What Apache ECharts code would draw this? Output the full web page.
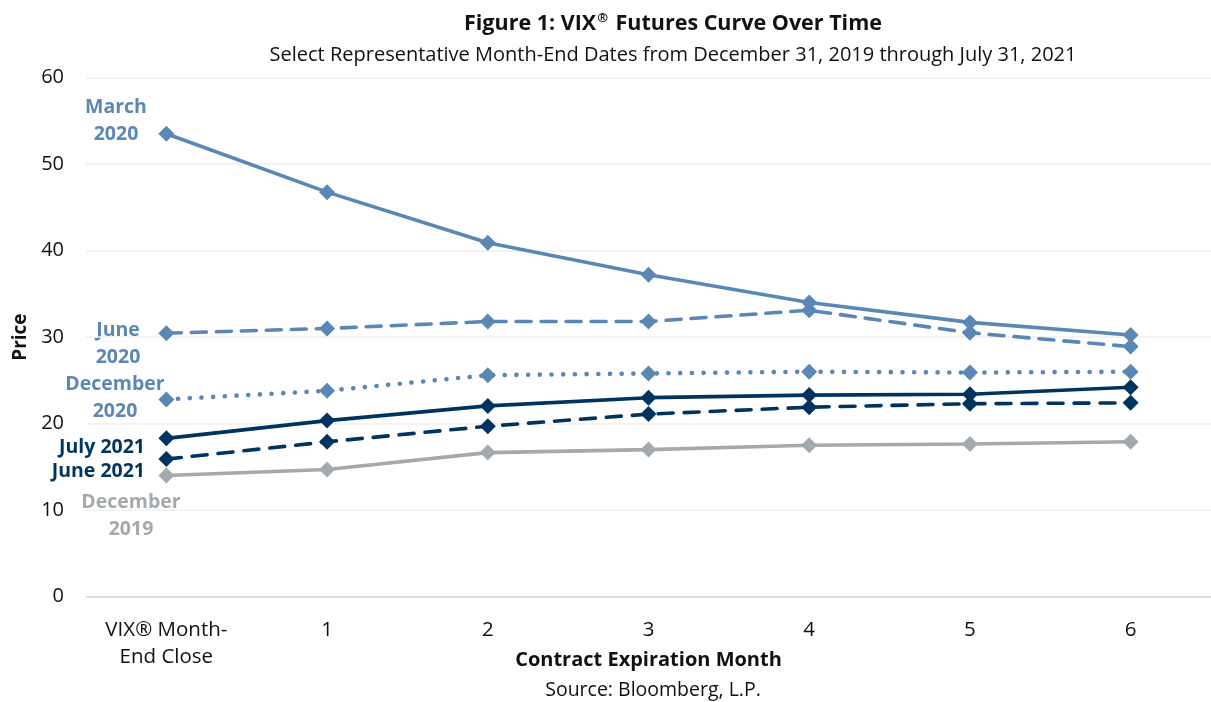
<!DOCTYPE html>
<html><head><meta charset="utf-8">
<script src="https://cdn.jsdelivr.net/npm/echarts@6/dist/echarts.min.js"></script>
<style>html,body{margin:0;padding:0;background:#fff}#c{width:1211px;height:702px}</style>
</head><body><div id="c"></div>
<script>
const categories = ['VIX® Month-\nEnd Close', '1', '2', '3', '4', '5', '6'];
const yTicks = [0, 10, 20, 30, 40, 50, 60];
const march2020 = [53.5, 46.75, 40.9, 37.2, 34.0, 31.7, 30.25];
const june2020 = [30.45, 31.0, 31.8, 31.8, 33.1, 30.5, 28.9];
const dec2020 = [22.8, 23.8, 25.6, 25.8, 26.0, 25.9, 26.0];
const july2021 = [18.3, 20.35, 22.05, 23.0, 23.3, 23.4, 24.2];
const june2021 = [15.9, 17.9, 19.7, 21.1, 21.9, 22.3, 22.4];
const dec2019 = [14.0, 14.7, 16.65, 17.0, 17.5, 17.65, 17.9];

const LIGHT = '#5b87b5', DARK = '#00345f', GRAY = '#a3a9ac';
const FONT = '"Open Sans", "Noto Sans", sans-serif';

function mk(name, data, color, dash, width) {
  return {
    name, type: 'line', data,
    symbol: 'diamond', symbolSize: 16,
    itemStyle: { color },
    lineStyle: { color, width: width || 3.6, type: dash || 'solid', cap: dash ? 'round' : 'butt' },
    z: 3
  };
}

const chart = echarts.init(document.getElementById('c'));
function labelText(lines, x, y, color, align) {
  return {
    type: 'text', x, y,
    style: { text: lines, fill: color, font: 'bold 19.5px ' + FONT, align: align || 'center', verticalAlign: 'middle', lineHeight: 27 }
  };
}
chart.setOption({
  animation: false,
  backgroundColor: '#fff',
  title: [{
    text: '{a|Figure 1: VIX}{s|®}{a| Futures Curve Over Time}',
    left: 668, top: 7, textAlign: 'center',
    textStyle: { rich: {
      a: { fontFamily: FONT, fontWeight: 'bold', fontSize: 21.5, color: '#111' },
      s: { fontFamily: FONT, fontWeight: 'bold', fontSize: 13, color: '#111', verticalAlign: 'top', padding: [0, 2, 10, 1] }
    } }
  }, {
    text: 'Select Representative Month-End Dates from December 31, 2019 through July 31, 2021',
    left: 668, top: 40, textAlign: 'center',
    textStyle: { fontFamily: FONT, fontWeight: 'normal', fontSize: 20, color: '#111' }
  }],
  grid: { left: 86, width: 1134, top: 77.5, height: 519.2, containLabel: false },
  xAxis: {
    type: 'category', data: categories, boundaryGap: true,
    axisLine: { lineStyle: { color: '#d9d9d9', width: 1.5 } },
    axisTick: { show: false },
    axisLabel: { color: '#111', fontFamily: FONT, fontSize: 20.5, margin: 20, lineHeight: 27, interval: 0 },
    name: 'Contract Expiration Month', nameLocation: 'middle', nameGap: 54, nameMoveOverlap: false,
    nameTextStyle: { color: '#111', fontFamily: FONT, fontWeight: 'bold', fontSize: 20, verticalAlign: 'top' }
  },
  yAxis: {
    type: 'value', min: yTicks[0], max: yTicks[yTicks.length - 1], interval: 10,
    axisLine: { show: false }, axisTick: { show: false },
    splitLine: { lineStyle: { color: '#efefef', width: 1.5 } },
    axisLabel: { color: '#111', fontFamily: FONT, fontSize: 20, margin: 22 },
    name: 'Price', nameLocation: 'middle', nameGap: 56, nameRotate: 90, nameMoveOverlap: false,
    nameTextStyle: { color: '#111', fontFamily: FONT, fontWeight: 'bold', fontSize: 19 }
  },
  series: [
    mk('March 2020', march2020, LIGHT),
    mk('June 2020', june2020, LIGHT, [15, 10]),
    mk('December 2020', dec2020, LIGHT, [0.1, 11.6], 4.6),
    mk('July 2021', july2021, DARK),
    mk('June 2021', june2021, DARK, [15, 11]),
    mk('December 2019', dec2019, GRAY)
  ],
  graphic: [
    labelText('March\n2020', 116, 121, LIGHT),
    labelText('June\n2020', 118, 344, LIGHT),
    labelText('December\n2020', 115, 398, LIGHT),
    labelText('July 2021', 145, 447, DARK, 'right'),
    labelText('June 2021', 145, 471, DARK, 'right'),
    labelText('December\n2019', 131, 516, GRAY),
    {
      type: 'text', x: 653, y: 690,
      style: { text: 'Source: Bloomberg, L.P.', fill: '#111', font: '19.5px ' + FONT, align: 'center', verticalAlign: 'middle' }
    }
  ]
});
</script></body></html>
